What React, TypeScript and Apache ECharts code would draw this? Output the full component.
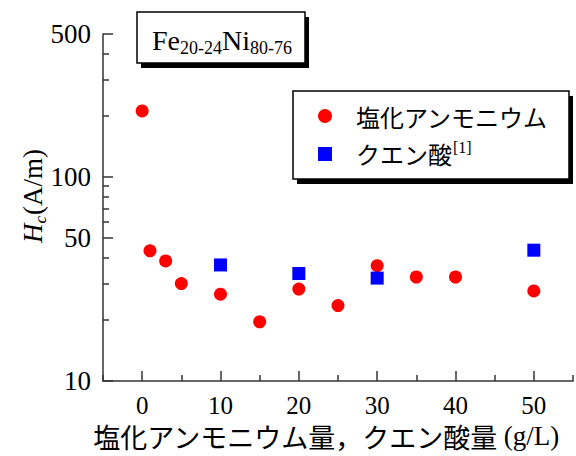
import React, { useEffect, useRef } from "react";
import * as echarts from "echarts";

const ammoniumX = [0, 1, 3, 5, 10, 15, 20, 25, 30, 35, 40, 50];
const ammoniumY = [210, 43.4, 38.7, 30.0, 26.6, 19.5, 28.2, 23.4, 36.7, 32.3, 32.3, 27.6];
const citricX = [10, 20, 30, 50];
const citricY = [37.0, 33.6, 31.9, 43.7];

const yMajorTicks = [10, 50, 100, 500];
const yMinorTicks = [20, 30, 40, 60, 70, 80, 90, 200, 300, 400];
const xMajorTicks = [0, 10, 20, 30, 40, 50];
const xMinorTicks = [-5, 5, 15, 25, 35, 45, 55];

const seriesNames = ["塩化アンモニウム", "クエン酸"];
const serif = "'Liberation Serif', 'Times New Roman', serif";
const cjk = "'Noto Sans CJK JP', sans-serif";

export default function App() {
  const ref = useRef<HTMLDivElement>(null);
  useEffect(() => {
    if (!ref.current) return;
    const chart = echarts.init(ref.current, null, { renderer: "svg" });
    const axisColor = "#333";
    const option = {
      animation: false,
      backgroundColor: "#fff",
      grid: { left: 103, right: 3, top: 34, bottom: 75, containLabel: false },
      xAxis: [
        {
          type: "value",
          min: -5,
          max: 55,
          axisLine: { show: true, onZero: false, lineStyle: { color: axisColor, width: 1.5 } },
          axisTick: { show: true, inside: true, length: 10, customValues: xMajorTicks, lineStyle: { color: axisColor, width: 1.5 } },
          axisLabel: { show: true, customValues: xMajorTicks, margin: 12, fontFamily: serif, fontSize: 25, color: "#000" },
          splitLine: { show: false },
        },
        {
          type: "value",
          min: -5,
          max: 55,
          position: "bottom",
          axisLine: { show: false, onZero: false },
          axisTick: { show: true, inside: true, length: 6, customValues: xMinorTicks, lineStyle: { color: axisColor, width: 1.5 } },
          axisLabel: { show: false },
          splitLine: { show: false },
        },
      ],
      yAxis: [
        {
          type: "log",
          logBase: 10,
          min: 10,
          max: 500,
          position: "left",
          axisLine: { show: true, onZero: false, lineStyle: { color: axisColor, width: 1.5 } },
          axisTick: { show: true, inside: true, length: 10, customValues: yMajorTicks, lineStyle: { color: axisColor, width: 1.5 } },
          axisLabel: { show: true, customValues: yMajorTicks, margin: 12, fontFamily: serif, fontSize: 27, color: "#000" },
          splitLine: { show: false },
        },
        {
          type: "log",
          logBase: 10,
          min: 10,
          max: 500,
          position: "left",
          offset: 0,
          axisLine: { show: false, onZero: false },
          axisTick: { show: true, inside: true, length: 6, customValues: yMinorTicks, lineStyle: { color: axisColor, width: 1.5 } },
          axisLabel: { show: false },
          splitLine: { show: false },
        },
      ],
      legend: {
        orient: "vertical",
        left: 313,
        top: 99,
        z: 10,
        itemWidth: 14,
        itemHeight: 14,
        itemGap: 12,
        data: [
          { name: seriesNames[0], icon: "circle" },
          { name: seriesNames[1], icon: "rect" },
        ],
        formatter: (name: string) =>
          name === seriesNames[1] ? `{a|${name}}{sup|[1]}` : `{a|${name}}`,
        textStyle: {
          padding: [0, 0, 0, 19],
          rich: {
            a: { fontFamily: cjk, fontSize: 24, color: "#000", lineHeight: 28 },
            sup: { fontFamily: serif, fontSize: 16, color: "#000", verticalAlign: "top", lineHeight: 28, padding: [0, 0, 8, 1] },
          },
        },
      },
      graphic: [
        { type: "rect", z: 1, shape: { x: 141, y: 17, width: 168, height: 51 }, style: { fill: "#000" } },
        { type: "rect", z: 2, shape: { x: 137, y: 12, width: 168, height: 51 }, style: { fill: "#fff", stroke: "#000", lineWidth: 1.5 } },
        {
          type: "text",
          z: 3,
          x: 222,
          y: 38,
          style: {
            text: "{m|Fe}{s|20-24}{m|Ni}{s|80-76}",
            align: "center",
            verticalAlign: "middle",
            rich: {
              m: { fontFamily: serif, fontSize: 28, fill: "#000", lineHeight: 32, verticalAlign: "bottom" },
              s: { fontFamily: serif, fontSize: 18, fill: "#000", lineHeight: 32, verticalAlign: "bottom", padding: [0, 0, -3, 0] },
            },
          },
        },
        { type: "rect", z: 1, shape: { x: 297, y: 96, width: 276, height: 88 }, style: { fill: "#000" } },
        { type: "rect", z: 2, shape: { x: 293, y: 91, width: 276, height: 88 }, style: { fill: "#fff", stroke: "#000", lineWidth: 1.5 } },
        {
          type: "text",
          z: 3,
          x: 30,
          y: 196,
          rotation: Math.PI / 2,
          style: {
            text: "{h|H}{s|c}{n|(A/m)}",
            align: "center",
            verticalAlign: "middle",
            rich: {
              h: { fontFamily: serif, fontStyle: "italic", fontSize: 27, fill: "#000", lineHeight: 32, verticalAlign: "bottom" },
              s: { fontFamily: serif, fontStyle: "italic", fontSize: 17, fill: "#000", lineHeight: 32, verticalAlign: "bottom", padding: [0, 1, -3, 0] },
              n: { fontFamily: serif, fontSize: 27, fill: "#000", lineHeight: 32, verticalAlign: "bottom" },
            },
          },
        },
        {
          type: "text",
          z: 3,
          x: 326,
          y: 436,
          style: {
            text: "{j|塩化アンモニウム量，クエン酸量 }{r|(g/L)}",
            align: "center",
            verticalAlign: "middle",
            rich: {
              j: { fontFamily: cjk, fontSize: 27, fill: "#000", lineHeight: 28 },
              r: { fontFamily: serif, fontSize: 27, fill: "#000", lineHeight: 28 },
            },
          },
        },
      ],
      series: [
        {
          name: seriesNames[0],
          type: "scatter",
          xAxisIndex: 0,
          yAxisIndex: 0,
          symbol: "circle",
          symbolSize: 13,
          itemStyle: { color: "#ff0000", opacity: 1 },
          data: ammoniumX.map((x, i) => [x, ammoniumY[i]]),
          z: 5,
        },
        {
          name: seriesNames[1],
          type: "scatter",
          xAxisIndex: 0,
          yAxisIndex: 0,
          symbol: "rect",
          symbolSize: 13,
          itemStyle: { color: "#0000ff", opacity: 1 },
          data: citricX.map((x, i) => [x, citricY[i]]),
          z: 5,
        },
      ],
    };
    chart.setOption(option as any);
    return () => chart.dispose();
  }, []);
  return (
    <div
      ref={ref}
      style={{ position: "fixed", left: 0, top: 0, width: 576, height: 456 }}
    />
  );
}
